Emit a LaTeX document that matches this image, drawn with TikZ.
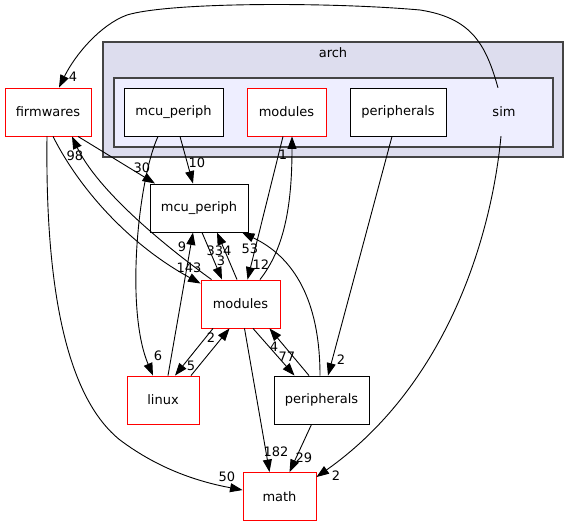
\documentclass[tikz,border=0pt]{standalone}
\usepackage{fontspec}
\setmainfont{DejaVu Sans}
\usetikzlibrary{arrows.meta}
\definecolor{archfill}{HTML}{DDDDEE}
\definecolor{simfill}{HTML}{EEEEFF}
\definecolor{clborder}{HTML}{444444}
\tikzset{
  box/.style={draw=black, fill=white, line width=0.9pt, minimum height=48pt, inner sep=0pt, font=\fontsize{13}{15}\selectfont},
  redbox/.style={box, draw=red},
  plain/.style={inner sep=0pt, minimum height=48pt, minimum width=40pt, font=\fontsize{13}{15}\selectfont},
  lbl/.style={inner sep=0pt, font=\fontsize{13}{15}\selectfont},
  conn/.style={line width=0.9pt, -{Triangle[length=12.5pt,width=9pt]}},
  cluster/.style={draw=clborder, line width=1.2pt, inner sep=0pt},
}
\begin{document}
\begin{tikzpicture}[x=1pt,y=-1pt]
\useasboundingbox (0,0) rectangle (579,526);
% clusters
\node[cluster, fill=archfill, minimum width=460pt, minimum height=115pt] (arch) at (333,99.5) {};
\node[lbl] (archlbl) at (333,53) {arch};
\node[cluster, fill=simfill, minimum width=439pt, minimum height=69pt] (simcl) at (333.5,112.5) {};
% nodes
\node[redbox, minimum width=86pt] (fw) at (48,112) {firmwares};
\node[box, minimum width=99pt] (mcuin) at (173.5,112) {mcu\_periph};
\node[redbox, minimum width=79pt] (modin) at (286.5,112) {modules};
\node[box, minimum width=96pt] (perin) at (398,112) {peripherals};
\node[plain] (sim) at (504,112) {sim};
\node[box, minimum width=98pt] (mcuout) at (199,208) {mcu\_periph};
\node[redbox, minimum width=79pt] (modout) at (240.5,304) {modules};
\node[redbox, minimum width=72pt] (linux) at (163,400) {linux};
\node[box, minimum width=95pt] (perout) at (321.5,400) {peripherals};
\node[redbox, minimum width=73pt] (math) at (279.5,496.5) {math};
% edges
\draw[conn] ([xshift=-6pt]sim.north) .. controls (486,45) and (472,18) .. (420,10)
   .. controls (330,2) and (170,2) .. (127,15) .. controls (100,25) and (75,55) .. ([xshift=11pt]fw.north);
\node[lbl] (l1) at (73,77) {4};
\draw[conn] ([xshift=-3pt]sim.south) .. controls (490,250) and (440,390) .. ([yshift=-5pt]math.north east);
\node[lbl] (l2) at (336,476) {2};
\draw[conn] ([xshift=6.5pt]mcuin.south) -- ([xshift=-6pt]mcuout.north);
\node[lbl] (l3) at (197,163) {10};
\draw[conn] ([xshift=-15.5pt]mcuin.south) .. controls (138,180) and (125,310) .. ([xshift=-10pt]linux.north);
\node[lbl] (l4) at (158,356) {6};
\draw[conn] ([xshift=-3.5pt]modin.south) -- ([xshift=7pt]modout.north);
\node[lbl] (l5) at (261,265) {12};
\draw[conn] ([xshift=19.5pt]modout.north) .. controls (283,250) and (292,210) .. ([xshift=5.5pt]modin.south);
\node[lbl] (l6) at (283,155) {1};
\draw[conn] ([xshift=-6pt]perin.south) -- ([xshift=6.5pt]perout.north);
\node[lbl] (l7) at (341,360) {2};
\draw[conn] ([xshift=30pt]fw.south) -- ([xshift=-44pt]mcuout.north);
\node[lbl] (l8) at (142,168) {30};
\draw[conn] ([xshift=-29pt]modout.north) .. controls (150,235) and (95,185) .. ([xshift=24pt]fw.south);
\node[lbl] (l9) at (75,156) {98};
\draw[conn] ([xshift=5pt]fw.south) .. controls (80,190) and (130,245) .. ([yshift=-4pt]modout.north west);
\node[lbl] (l10) at (189,268) {143};
\draw[conn] ([xshift=-1pt]fw.south) .. controls (45,300) and (70,400) .. (120,440)
   .. controls (160,470) and (200,482) .. ([yshift=-18pt]math.north west);
\node[lbl] (l11) at (227,477) {50};
\draw[conn] ([xshift=3pt]mcuout.south) -- ([xshift=-18.5pt]modout.north);
\node[lbl] (l12) at (221,261) {3};
\draw[conn] ([xshift=-3.5pt]modout.north) -- ([xshift=18pt]mcuout.south);
\node[lbl] (l13) at (219,251) {334};
\draw[conn] ([xshift=5pt]linux.north) -- ([xshift=-6pt]mcuout.south);
\node[lbl] (l14) at (182,247) {9};
\draw[conn] ([xshift=-1.5pt]perout.north) .. controls (320,310) and (300,260) .. ([xshift=43pt]mcuout.south);
\node[lbl] (l15) at (250,249) {53};
\draw[conn] ([xshift=-27.5pt]modout.south) -- ([xshift=12pt]linux.north);
\node[lbl] (l16) at (211,338) {2};
\draw[conn] ([xshift=28pt]linux.north) -- ([xshift=-11pt]modout.south);
\node[lbl] (l17) at (191,366) {5};
\draw[conn] ([xshift=12.5pt]modout.south) -- ([xshift=-27pt]perout.north);
\node[lbl] (l18) at (287,357) {77};
\draw[conn] ([xshift=-12.5pt]perout.north) -- ([xshift=29pt]modout.south);
\node[lbl] (l19) at (274,347) {4};
\draw[conn] ([xshift=4pt]modout.south) -- ([xshift=-10pt]math.north);
\node[lbl] (l20) at (276,452) {182};
\draw[conn] ([xshift=-10pt]perout.south) -- ([xshift=10pt]math.north);
\node[lbl] (l21) at (304,458) {29};
\end{tikzpicture}
\end{document}
